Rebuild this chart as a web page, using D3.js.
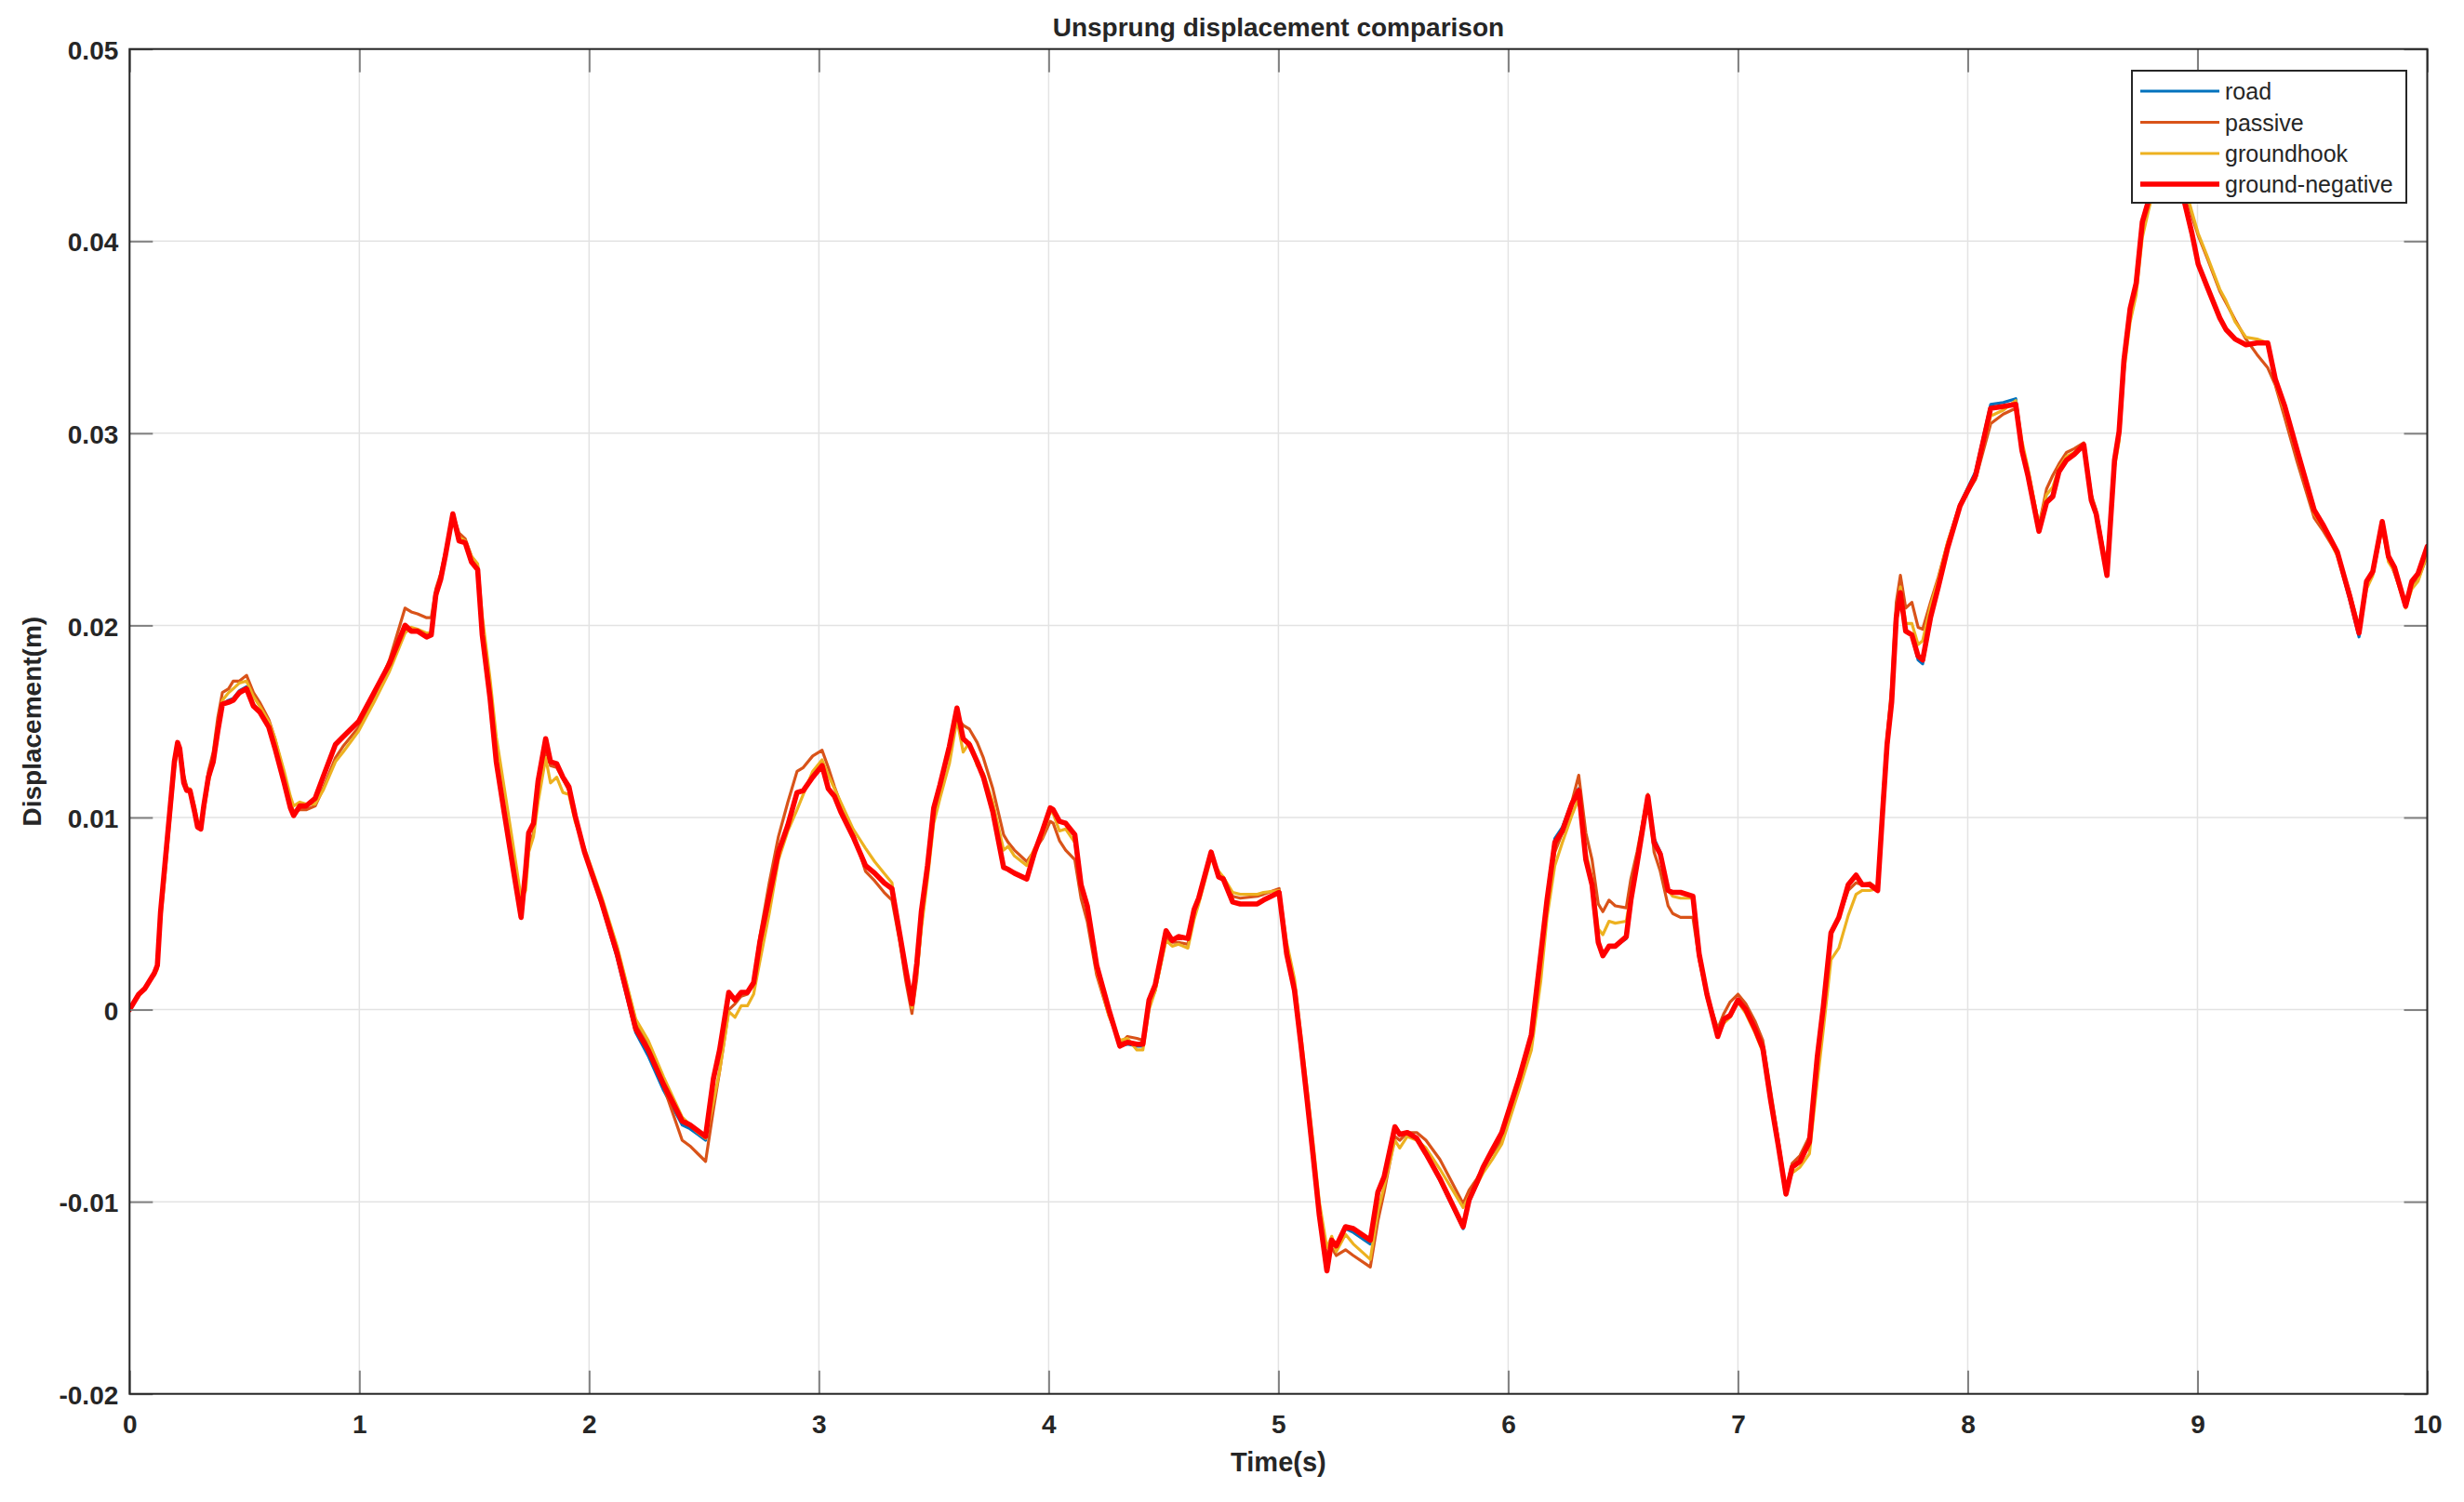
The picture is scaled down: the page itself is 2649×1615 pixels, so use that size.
<!DOCTYPE html>
<html>
<head>
<meta charset="utf-8">
<script src="https://cdn.jsdelivr.net/npm/d3@7"></script>
<style>
  html, body { margin: 0; padding: 0; background: #ffffff; }
  svg { display: block; }
  text { font-family: "Liberation Sans", Arial, Helvetica, sans-serif; fill: #262626; }
</style>
</head>
<body>
<svg id="chart" width="2649" height="1615"></svg>
<script>
// ---------------- DATA ----------------
const chartTitle = "Unsprung displacement comparison";
const xLabel = "Time(s)";
const yLabel = "Displacement(m)";
const seriesNames = ["road", "passive", "groundhook", "ground-negative"];
const xTicks = [0, 1, 2, 3, 4, 5, 6, 7, 8, 9, 10];
const xTickLabels = ["0", "1", "2", "3", "4", "5", "6", "7", "8", "9", "10"];
const yTicks = [-0.02, -0.01, 0, 0.01, 0.02, 0.03, 0.04, 0.05];
const yTickLabels = ["-0.02", "-0.01", "0", "0.01", "0.02", "0.03", "0.04", "0.05"];

const time = [
  // 0 - 2 s
  0, 0.04, 0.067, 0.108, 0.121, 0.135, 0.155, 0.175, 0.195, 0.209, 0.218, 0.236, 0.249, 0.263, 0.283, 0.296, 0.31, 0.323, 0.343, 0.364,
  0.384, 0.404, 0.431, 0.451, 0.478, 0.509, 0.539, 0.566, 0.606, 0.633, 0.673, 0.70, 0.714, 0.741, 0.768, 0.808, 0.842, 0.896, 0.929, 0.997,
  1.064, 1.131, 1.199, 1.226, 1.253, 1.293, 1.313, 1.333, 1.354, 1.374, 1.407, 1.434, 1.461, 1.488, 1.515, 1.535, 1.569, 1.596, 1.63, 1.67,
  1.704, 1.724, 1.737, 1.758, 1.778, 1.811, 1.832, 1.859, 1.886, 1.912, 1.939, 1.98,
  // 2 - 4 s
  2.054, 2.122, 2.203, 2.257, 2.324, 2.405, 2.439, 2.473, 2.507, 2.541, 2.568, 2.608, 2.635, 2.662, 2.689, 2.716, 2.743, 2.784, 2.824, 2.865,
  2.905, 2.932, 2.973, 3.014, 3.041, 3.068, 3.095, 3.149, 3.203, 3.243, 3.284, 3.318, 3.351, 3.378, 3.405, 3.426, 3.446, 3.473, 3.5, 3.527,
  3.568, 3.601, 3.628, 3.655, 3.689, 3.716, 3.757, 3.804, 3.824, 3.851, 3.905, 3.939, 3.973,
  // 4 - 6 s
  4.007, 4.02, 4.047, 4.074, 4.114, 4.141, 4.168, 4.209, 4.262, 4.31, 4.343, 4.384, 4.41, 4.437, 4.464, 4.511, 4.538, 4.565, 4.606, 4.633,
  4.653, 4.707, 4.74, 4.76, 4.801, 4.834, 4.908, 4.935, 5.003, 5.036, 5.07, 5.097, 5.124, 5.151, 5.178, 5.211, 5.232, 5.252, 5.292, 5.326,
  5.4, 5.433, 5.46, 5.507, 5.528, 5.561, 5.602, 5.642, 5.703, 5.804, 5.83, 5.864, 5.891, 5.931, 5.972,
  // 6 - 8 s
  6.047, 6.101, 6.142, 6.169, 6.203, 6.236, 6.277, 6.307, 6.338, 6.365, 6.392, 6.412, 6.439, 6.466, 6.514, 6.534, 6.561, 6.608, 6.635, 6.662,
  6.696, 6.716, 6.75, 6.804, 6.831, 6.865, 6.912, 6.939, 6.966, 7.0, 7.034, 7.074, 7.108, 7.142, 7.176, 7.209, 7.236, 7.27, 7.311, 7.345,
  7.372, 7.405, 7.439, 7.48, 7.514, 7.541, 7.574, 7.608, 7.628, 7.649, 7.669, 7.689, 7.707, 7.73, 7.757, 7.784, 7.804, 7.838, 7.872, 7.912,
  7.966,
  // 8 - 10 s
  8.034, 8.1, 8.155, 8.209, 8.236, 8.262, 8.31, 8.343, 8.37, 8.397, 8.43, 8.464, 8.505, 8.538, 8.559, 8.606, 8.639, 8.659, 8.68, 8.707,
  8.733, 8.76, 8.787, 8.83, 8.88, 8.92, 8.942, 8.976, 9.003, 9.043, 9.097, 9.124, 9.164, 9.211, 9.259, 9.306, 9.339, 9.38, 9.434, 9.508,
  9.548, 9.609, 9.663, 9.703, 9.736, 9.763, 9.804, 9.831, 9.858, 9.906, 9.933, 9.96, 10.0
];

const road = [
  0, 0.0008, 0.0011, 0.0019, 0.0023, 0.0052, 0.0078, 0.0104, 0.0130, 0.0139, 0.0137, 0.0121, 0.0115, 0.0114, 0.0103, 0.0095, 0.0094, 0.0106, 0.0121, 0.0129,
  0.0145, 0.0159, 0.0161, 0.0162, 0.0166, 0.0168, 0.0159, 0.0155, 0.0147, 0.0136, 0.0118, 0.0105, 0.0101, 0.0106, 0.0106, 0.0110, 0.0121, 0.0138, 0.0142, 0.0150,
  0.0165, 0.0180, 0.0200, 0.0197, 0.0197, 0.0194, 0.0195, 0.0216, 0.0224, 0.0236, 0.0258, 0.0244, 0.0243, 0.0233, 0.0229, 0.0195, 0.0162, 0.0129, 0.0103, 0.0073,
  0.0048, 0.0073, 0.0092, 0.0097, 0.0119, 0.0141, 0.0129, 0.0128, 0.0121, 0.0116, 0.0101, 0.0082,
  0.0055, 0.0027, -0.0012, -0.0024, -0.0042, -0.0060, -0.0062, -0.0065, -0.0068, -0.0037, -0.0021, 0.0009, 0.0005, 0.0009, 0.0009, 0.0014, 0.0035, 0.0059, 0.0082, 0.0096,
  0.0113, 0.0114, 0.0121, 0.0127, 0.0115, 0.0111, 0.0103, 0.0090, 0.0075, 0.0071, 0.0066, 0.0063, 0.0040, 0.0021, 0.0003, 0.0024, 0.0051, 0.0075, 0.0105, 0.0117,
  0.0137, 0.0157, 0.0141, 0.0138, 0.0129, 0.0121, 0.0103, 0.0075, 0.0073, 0.0071, 0.0068, 0.0082, 0.0093,
  0.0105, 0.0104, 0.0098, 0.0097, 0.0091, 0.0065, 0.0054, 0.0023, 0.0000, -0.0019, -0.0018, -0.0019, -0.0019, 0.0005, 0.0013, 0.0041, 0.0036, 0.0038, 0.0037, 0.0052,
  0.0058, 0.0082, 0.0069, 0.0068, 0.0056, 0.0055, 0.0055, 0.0057, 0.0061, 0.0029, 0.0010, -0.0017, -0.0046, -0.0076, -0.0107, -0.0135, -0.0121, -0.0123, -0.0114, -0.0116,
  -0.0122, -0.0096, -0.0088, -0.0062, -0.0065, -0.0064, -0.0067, -0.0075, -0.0089, -0.0114, -0.0100, -0.0091, -0.0083, -0.0074, -0.0064,
  -0.0036, -0.0012, 0.0030, 0.0058, 0.0089, 0.0095, 0.0108, 0.0115, 0.0079, 0.0065, 0.0035, 0.0028, 0.0033, 0.0033, 0.0037, 0.0057, 0.0076, 0.0110, 0.0089, 0.0082,
  0.0062, 0.0061, 0.0061, 0.0059, 0.0029, 0.0008, -0.0014, -0.0005, -0.0003, 0.0005, 0.0000, -0.0010, -0.0020, -0.0047, -0.0071, -0.0096, -0.0082, -0.0079, -0.0069, -0.0025,
  0.0002, 0.0040, 0.0048, 0.0065, 0.0070, 0.0065, 0.0065, 0.0062, 0.0100, 0.0138, 0.0160, 0.0204, 0.0217, 0.0197, 0.0195, 0.0182, 0.0180, 0.0203, 0.0220, 0.0241,
  0.0263,
  0.0280, 0.0315, 0.0316, 0.0318, 0.0293, 0.0279, 0.0249, 0.0265, 0.0268, 0.0281, 0.0286, 0.0289, 0.0294, 0.0265, 0.0258, 0.0226, 0.0286, 0.0301, 0.0339, 0.0366,
  0.0379, 0.0411, 0.0422, 0.0440, 0.0448, 0.0438, 0.0421, 0.0404, 0.0388, 0.0376, 0.0360, 0.0354, 0.0349, 0.0346, 0.0347, 0.0347, 0.0328, 0.0314, 0.0291, 0.0260,
  0.0252, 0.0237, 0.0213, 0.0194, 0.0222, 0.0228, 0.0254, 0.0236, 0.0230, 0.0210, 0.0223, 0.0227, 0.0241
];

const passive = [
  0, 0.0008, 0.0011, 0.0018, 0.0022, 0.0048, 0.0074, 0.0101, 0.0127, 0.0137, 0.0137, 0.0122, 0.0116, 0.0114, 0.0104, 0.0096, 0.0094, 0.0106, 0.0124, 0.0134,
  0.0152, 0.0165, 0.0167, 0.0171, 0.0171, 0.0174, 0.0165, 0.0160, 0.0151, 0.0141, 0.0122, 0.0108, 0.0103, 0.0104, 0.0104, 0.0106, 0.0115, 0.0131, 0.0137, 0.0147,
  0.0163, 0.0182, 0.0209, 0.0207, 0.0206, 0.0204, 0.0204, 0.0219, 0.0227, 0.0238, 0.0258, 0.0248, 0.0245, 0.0236, 0.0231, 0.0200, 0.0166, 0.0133, 0.0106, 0.0075,
  0.0050, 0.0066, 0.0084, 0.0092, 0.0112, 0.0136, 0.0127, 0.0126, 0.0120, 0.0114, 0.0101, 0.0083,
  0.0058, 0.0032, -0.0006, -0.0019, -0.0040, -0.0068, -0.0071, -0.0075, -0.0079, -0.0052, -0.0032, 0.0000, 0.0003, 0.0007, 0.0008, 0.0014, 0.0038, 0.0066, 0.0090, 0.0108,
  0.0124, 0.0126, 0.0132, 0.0135, 0.0126, 0.0116, 0.0107, 0.0092, 0.0072, 0.0067, 0.0061, 0.0057, 0.0036, 0.0015, -0.0002, 0.0016, 0.0044, 0.0071, 0.0101, 0.0117,
  0.0136, 0.0152, 0.0148, 0.0146, 0.0139, 0.0131, 0.0115, 0.0091, 0.0087, 0.0083, 0.0077, 0.0083, 0.0089,
  0.0098, 0.0097, 0.0088, 0.0083, 0.0078, 0.0058, 0.0046, 0.0018, -0.0003, -0.0018, -0.0014, -0.0015, -0.0016, 0.0002, 0.0010, 0.0037, 0.0035, 0.0035, 0.0034, 0.0049,
  0.0056, 0.0081, 0.0071, 0.0069, 0.0059, 0.0058, 0.0059, 0.0060, 0.0063, 0.0031, 0.0012, -0.0015, -0.0043, -0.0073, -0.0103, -0.0128, -0.0124, -0.0128, -0.0125, -0.0128,
  -0.0134, -0.0110, -0.0095, -0.0066, -0.0068, -0.0064, -0.0064, -0.0068, -0.0078, -0.0101, -0.0094, -0.0088, -0.0082, -0.0075, -0.0068,
  -0.0040, -0.0018, 0.0022, 0.0052, 0.0082, 0.0092, 0.0108, 0.0122, 0.0092, 0.0078, 0.0055, 0.0051, 0.0057, 0.0054, 0.0053, 0.0068, 0.0082, 0.0112, 0.0082, 0.0072,
  0.0054, 0.0050, 0.0048, 0.0048, 0.0026, 0.0008, -0.0010, -0.0002, 0.0004, 0.0008, 0.0003, -0.0006, -0.0016, -0.0042, -0.0068, -0.0094, -0.0080, -0.0076, -0.0066, -0.0024,
  0.0003, 0.0040, 0.0048, 0.0062, 0.0066, 0.0065, 0.0066, 0.0063, 0.0105, 0.0142, 0.0168, 0.0212, 0.0226, 0.0209, 0.0212, 0.0199, 0.0198, 0.0212, 0.0225, 0.0243,
  0.0263,
  0.0276, 0.0305, 0.0310, 0.0313, 0.0294, 0.0281, 0.0252, 0.0271, 0.0278, 0.0284, 0.0290, 0.0292, 0.0295, 0.0268, 0.0260, 0.0229, 0.0283, 0.0299, 0.0335, 0.0362,
  0.0376, 0.0406, 0.0419, 0.0438, 0.0447, 0.0440, 0.0428, 0.0413, 0.0403, 0.0391, 0.0374, 0.0368, 0.0359, 0.0349, 0.0341, 0.0334, 0.0325, 0.0308, 0.0285, 0.0256,
  0.0249, 0.0237, 0.0217, 0.0199, 0.0221, 0.0227, 0.0251, 0.0235, 0.0227, 0.0210, 0.0220, 0.0224, 0.0236
];

const groundhook = [
  0, 0.0007, 0.0011, 0.0018, 0.0021, 0.0046, 0.0071, 0.0098, 0.0125, 0.0136, 0.0137, 0.0120, 0.0115, 0.0115, 0.0106, 0.0098, 0.0095, 0.0103, 0.0118, 0.0130,
  0.0148, 0.0161, 0.0165, 0.0167, 0.0170, 0.0171, 0.0163, 0.0158, 0.0150, 0.0141, 0.0124, 0.0111, 0.0106, 0.0108, 0.0107, 0.0107, 0.0114, 0.0129, 0.0134, 0.0145,
  0.0160, 0.0176, 0.0196, 0.0199, 0.0198, 0.0196, 0.0196, 0.0214, 0.0224, 0.0236, 0.0256, 0.0246, 0.0244, 0.0236, 0.0232, 0.0205, 0.0172, 0.0142, 0.0116, 0.0085,
  0.0058, 0.0062, 0.0082, 0.0090, 0.0108, 0.0131, 0.0118, 0.0121, 0.0113, 0.0112, 0.0098, 0.0084,
  0.0059, 0.0033, -0.0005, -0.0016, -0.0035, -0.0056, -0.0060, -0.0064, -0.0067, -0.0048, -0.0032, -0.0001, -0.0004, 0.0002, 0.0002, 0.0008, 0.0025, 0.0050, 0.0078, 0.0093,
  0.0104, 0.0112, 0.0124, 0.0130, 0.0122, 0.0115, 0.0108, 0.0094, 0.0084, 0.0077, 0.0071, 0.0066, 0.0038, 0.0019, 0.0001, 0.0018, 0.0042, 0.0068, 0.0097, 0.0110,
  0.0128, 0.0151, 0.0134, 0.0139, 0.0127, 0.0123, 0.0108, 0.0083, 0.0085, 0.0080, 0.0075, 0.0084, 0.0090,
  0.0103, 0.0102, 0.0093, 0.0094, 0.0087, 0.0066, 0.0052, 0.0020, -0.0003, -0.0016, -0.0015, -0.0021, -0.0021, 0.0000, 0.0010, 0.0036, 0.0033, 0.0034, 0.0032, 0.0047,
  0.0055, 0.0079, 0.0072, 0.0069, 0.0061, 0.0060, 0.0060, 0.0061, 0.0062, 0.0035, 0.0016, -0.0012, -0.0040, -0.0069, -0.0100, -0.0124, -0.0118, -0.0126, -0.0117, -0.0122,
  -0.0130, -0.0105, -0.0092, -0.0068, -0.0072, -0.0066, -0.0068, -0.0072, -0.0083, -0.0103, -0.0097, -0.0091, -0.0085, -0.0078, -0.0070,
  -0.0042, -0.0021, 0.0015, 0.0048, 0.0075, 0.0087, 0.0101, 0.0110, 0.0082, 0.0068, 0.0042, 0.0039, 0.0046, 0.0045, 0.0046, 0.0060, 0.0077, 0.0109, 0.0088, 0.0080,
  0.0062, 0.0059, 0.0058, 0.0058, 0.0027, 0.0006, -0.0013, -0.0007, -0.0004, 0.0004, -0.0002, -0.0012, -0.0022, -0.0049, -0.0072, -0.0094, -0.0085, -0.0082, -0.0075, -0.0038,
  -0.0010, 0.0026, 0.0032, 0.0049, 0.0060, 0.0062, 0.0062, 0.0063, 0.0098, 0.0135, 0.0158, 0.0200, 0.0220, 0.0201, 0.0201, 0.0190, 0.0192, 0.0210, 0.0224, 0.0243,
  0.0262,
  0.0277, 0.0309, 0.0312, 0.0317, 0.0296, 0.0282, 0.0252, 0.0268, 0.0272, 0.0282, 0.0288, 0.0290, 0.0294, 0.0267, 0.0259, 0.0229, 0.0282, 0.0296, 0.0332, 0.0358,
  0.0372, 0.0402, 0.0416, 0.0436, 0.0446, 0.0441, 0.0430, 0.0415, 0.0404, 0.0392, 0.0375, 0.0369, 0.0358, 0.0350, 0.0349, 0.0347, 0.0326, 0.0311, 0.0289, 0.0258,
  0.0251, 0.0236, 0.0214, 0.0198, 0.0219, 0.0226, 0.0252, 0.0233, 0.0228, 0.0209, 0.0219, 0.0223, 0.0237
];

const groundNegative = [
  0, 0.0008, 0.0011, 0.0019, 0.0023, 0.0051, 0.0077, 0.0103, 0.0129, 0.0139, 0.0136, 0.0118, 0.0114, 0.0114, 0.0103, 0.0095, 0.0094, 0.0106, 0.0121, 0.0129,
  0.0145, 0.0159, 0.0160, 0.0161, 0.0165, 0.0167, 0.0158, 0.0155, 0.0147, 0.0136, 0.0118, 0.0105, 0.0101, 0.0106, 0.0106, 0.0110, 0.0121, 0.0138, 0.0142, 0.0150,
  0.0165, 0.0180, 0.0200, 0.0197, 0.0197, 0.0194, 0.0195, 0.0216, 0.0224, 0.0236, 0.0258, 0.0244, 0.0243, 0.0233, 0.0229, 0.0195, 0.0162, 0.0129, 0.0103, 0.0073,
  0.0048, 0.0073, 0.0092, 0.0097, 0.0119, 0.0141, 0.0129, 0.0128, 0.0121, 0.0116, 0.0101, 0.0082,
  0.0056, 0.0029, -0.0010, -0.0021, -0.0039, -0.0058, -0.0060, -0.0063, -0.0066, -0.0036, -0.0021, 0.0009, 0.0005, 0.0009, 0.0009, 0.0014, 0.0035, 0.0059, 0.0082, 0.0096,
  0.0113, 0.0114, 0.0121, 0.0127, 0.0115, 0.0111, 0.0103, 0.0090, 0.0075, 0.0071, 0.0066, 0.0063, 0.0040, 0.0021, 0.0003, 0.0024, 0.0051, 0.0075, 0.0105, 0.0117,
  0.0137, 0.0157, 0.0141, 0.0138, 0.0129, 0.0121, 0.0103, 0.0074, 0.0073, 0.0071, 0.0068, 0.0082, 0.0093,
  0.0105, 0.0104, 0.0098, 0.0097, 0.0091, 0.0065, 0.0054, 0.0023, 0.0000, -0.0019, -0.0017, -0.0018, -0.0018, 0.0005, 0.0013, 0.0041, 0.0036, 0.0038, 0.0037, 0.0052,
  0.0058, 0.0082, 0.0069, 0.0068, 0.0056, 0.0055, 0.0055, 0.0057, 0.0061, 0.0029, 0.0010, -0.0017, -0.0046, -0.0076, -0.0107, -0.0136, -0.0120, -0.0123, -0.0113, -0.0114,
  -0.0120, -0.0095, -0.0087, -0.0061, -0.0065, -0.0064, -0.0067, -0.0075, -0.0088, -0.0113, -0.0099, -0.0090, -0.0082, -0.0073, -0.0064,
  -0.0036, -0.0013, 0.0029, 0.0057, 0.0087, 0.0093, 0.0107, 0.0114, 0.0078, 0.0065, 0.0035, 0.0028, 0.0033, 0.0033, 0.0038, 0.0057, 0.0076, 0.0111, 0.0087, 0.0081,
  0.0062, 0.0061, 0.0061, 0.0059, 0.0029, 0.0008, -0.0014, -0.0005, -0.0003, 0.0005, 0.0000, -0.0010, -0.0020, -0.0047, -0.0071, -0.0096, -0.0082, -0.0079, -0.0069, -0.0025,
  0.0002, 0.0040, 0.0048, 0.0065, 0.0070, 0.0065, 0.0065, 0.0062, 0.0100, 0.0138, 0.0160, 0.0204, 0.0217, 0.0197, 0.0195, 0.0184, 0.0182, 0.0204, 0.0220, 0.0240,
  0.0262,
  0.0278, 0.0313, 0.0314, 0.0315, 0.0291, 0.0278, 0.0249, 0.0264, 0.0267, 0.0280, 0.0286, 0.0289, 0.0294, 0.0265, 0.0258, 0.0226, 0.0286, 0.0301, 0.0338, 0.0365,
  0.0378, 0.0410, 0.0421, 0.0440, 0.0448, 0.0438, 0.0421, 0.0404, 0.0388, 0.0376, 0.0360, 0.0354, 0.0349, 0.0346, 0.0347, 0.0347, 0.0328, 0.0314, 0.0291, 0.0260,
  0.0252, 0.0238, 0.0215, 0.0196, 0.0223, 0.0228, 0.0254, 0.0236, 0.0230, 0.0210, 0.0223, 0.0227, 0.0241
];

// ---------------- LAYOUT / STYLE ----------------
const W = 2649, H = 1615;
const plot = { left: 139.3, right: 2609.5, top: 52.7, bottom: 1498.7 };
const colors = ["#0072BD", "#D95319", "#EDB120", "#FF0000"];
const widths = [3.2, 3.2, 3.2, 5.6];
const axisColor = "#262626";
const gridColor = "#e3e3e3";
const tickColor = "#808080";
const tickLen = 25;
const fontFamily = '"Liberation Sans", Arial, Helvetica, sans-serif';

const svg = d3.select("#chart");
svg.append("rect").attr("width", W).attr("height", H).attr("fill", "#ffffff");

const x = d3.scaleLinear().domain([0, 10]).range([plot.left, plot.right]);
const y = d3.scaleLinear().domain([-0.02, 0.05]).range([plot.bottom, plot.top]);

// grid
const grid = svg.append("g").attr("class", "grid");
grid.selectAll("line.gx").data(xTicks).enter().append("line")
  .attr("x1", d => x(d)).attr("x2", d => x(d))
  .attr("y1", plot.top).attr("y2", plot.bottom)
  .attr("stroke", gridColor).attr("stroke-width", 1.5);
grid.selectAll("line.gy").data(yTicks).enter().append("line")
  .attr("x1", plot.left).attr("x2", plot.right)
  .attr("y1", d => y(d)).attr("y2", d => y(d))
  .attr("stroke", gridColor).attr("stroke-width", 1.5);

// clip
svg.append("defs").append("clipPath").attr("id", "clip")
  .append("rect").attr("x", plot.left).attr("y", plot.top)
  .attr("width", plot.right - plot.left).attr("height", plot.bottom - plot.top);

const seriesData = [road, passive, groundhook, groundNegative];
const line = d3.line().x((d, i) => x(time[i])).y(d => y(d));
const lines = svg.append("g").attr("clip-path", "url(#clip)");
seriesData.forEach((vals, k) => {
  lines.append("path").datum(vals)
    .attr("d", line)
    .attr("fill", "none")
    .attr("stroke", colors[k])
    .attr("stroke-width", widths[k])
    .attr("stroke-linejoin", "round")
    .attr("stroke-linecap", "round");
});

// axes
function styleAxis(g) {
  g.select(".domain").remove();
  g.selectAll(".tick line").attr("stroke", tickColor).attr("stroke-width", 2);
  g.selectAll(".tick text")
    .attr("fill", "#1a1a1a")
    .style("font-family", fontFamily)
    .style("font-size", "28px")
    .style("font-weight", "bold");
}
svg.append("g").attr("transform", `translate(0,${plot.bottom})`)
  .call(d3.axisBottom(x).tickValues(xTicks).tickFormat((d, i) => xTickLabels[i]).tickSize(-tickLen).tickPadding(22))
  .call(styleAxis);
svg.append("g").attr("transform", `translate(0,${plot.top})`)
  .call(d3.axisTop(x).tickValues(xTicks).tickFormat("").tickSize(-tickLen))
  .call(styleAxis);
const yAx = svg.append("g").attr("transform", `translate(${plot.left},0)`)
  .call(d3.axisLeft(y).tickValues(yTicks).tickFormat((d, i) => yTickLabels[i]).tickSize(-tickLen).tickPadding(12))
  .call(styleAxis);
yAx.selectAll(".tick text").attr("dy", "0.38em");
svg.append("g").attr("transform", `translate(${plot.right},0)`)
  .call(d3.axisRight(y).tickValues(yTicks).tickFormat("").tickSize(-tickLen))
  .call(styleAxis);

// box
svg.append("rect")
  .attr("x", plot.left).attr("y", plot.top)
  .attr("width", plot.right - plot.left).attr("height", plot.bottom - plot.top)
  .attr("fill", "none").attr("stroke", axisColor).attr("stroke-width", 2);

// title and labels
svg.append("text").text(chartTitle)
  .attr("x", (plot.left + plot.right) / 2).attr("y", 39)
  .attr("text-anchor", "middle")
  .style("font-size", "28px").style("font-weight", "bold").attr("fill", "#000");
svg.append("text").text(xLabel)
  .attr("x", (plot.left + plot.right) / 2).attr("y", 1582)
  .attr("text-anchor", "middle")
  .style("font-size", "29px").style("font-weight", "bold").attr("fill", "#1a1a1a");
svg.append("text").text(yLabel)
  .attr("transform", `translate(44,${(plot.top + plot.bottom) / 2}) rotate(-90)`)
  .attr("text-anchor", "middle")
  .style("font-size", "28px").style("font-weight", "bold").attr("fill", "#1a1a1a");

// legend
const lg = { x: 2292, y: 76, w: 295, h: 142 };
const legend = svg.append("g");
legend.append("rect").attr("x", lg.x).attr("y", lg.y).attr("width", lg.w).attr("height", lg.h)
  .attr("fill", "#ffffff").attr("stroke", axisColor).attr("stroke-width", 2);
const rowY = [98, 131.5, 165, 198];
seriesNames.forEach((name, k) => {
  legend.append("line")
    .attr("x1", 2301).attr("x2", 2386)
    .attr("y1", rowY[k]).attr("y2", rowY[k])
    .attr("stroke", colors[k]).attr("stroke-width", widths[k]);
  legend.append("text").text(name)
    .attr("x", 2392).attr("y", rowY[k] + 9)
    .style("font-size", "25px").attr("fill", "#000");
});
</script>
</body>
</html>
